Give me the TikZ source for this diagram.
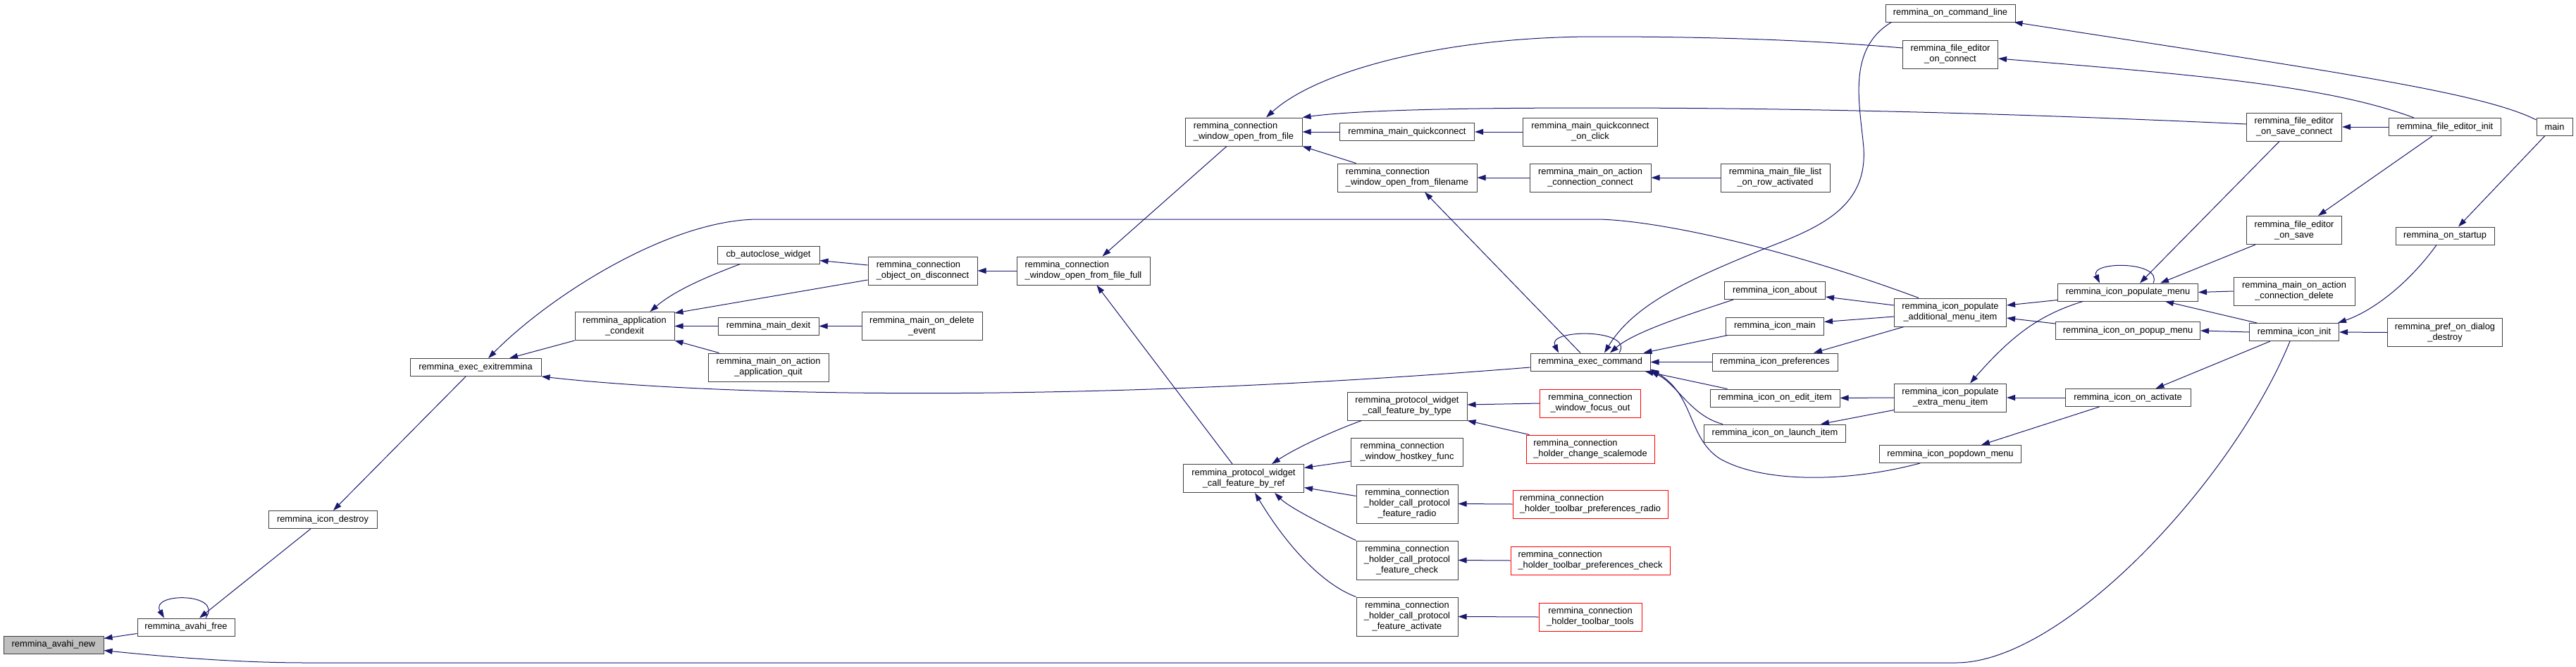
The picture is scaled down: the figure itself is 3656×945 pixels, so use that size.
\documentclass[tikz,border=0pt]{standalone}
\usepackage{fontspec}
\setmainfont{Liberation Sans}
\usetikzlibrary{arrows.meta,calc}
\definecolor{mblue}{HTML}{191970}
\definecolor{boxline}{HTML}{404040}
\tikzset{
 box/.style={draw=boxline, line width=1pt, fill=white, rectangle, inner sep=0pt, minimum height=25pt, font=\fontsize{12.85}{15}\selectfont, text=black},
 box2/.style={box, minimum height=40pt},
 box3/.style={box, minimum height=55pt},
 redbox/.style={draw=red},
 cur/.style={fill=black!25},
 edge/.style={draw=mblue, line width=1pt, -{Triangle[length=12pt,width=8pt]}},
}
\begin{document}
\begin{tikzpicture}[x=1pt,y=-1pt]
\fill[white] (0,0) rectangle (3656,945);
\path[use as bounding box] (0,0) rectangle (3656,945);
% nodes
\node[box, cur, minimum width=142pt] (new) at (76,914.5) {remmina\_avahi\_new};
\node[box, minimum width=138pt] (free) at (264,889.5) {remmina\_avahi\_free};
\node[box, minimum width=154pt] (destroy) at (458,737) {remmina\_icon\_destroy};
\node[box, minimum width=186pt] (exit) at (675,521) {remmina\_exec\_exitremmina};
\node[box2, minimum width=141pt, align=center] (cond) at (886.5,462.5) {remmina\_application\\\_condexit};
\node[box, minimum width=145pt] (cb) at (1090.5,361.5) {cb\_autoclose\_widget};
\node[box, minimum width=143pt] (dexit) at (1090.5,462.5) {remmina\_main\_dexit};
\node[box2, minimum width=171pt, align=center] (quit) at (1090.5,521) {remmina\_main\_on\_action\\\_application\_quit};
\node[box2, minimum width=155pt, align=left] (disc) at (1309.5,384) {remmina\_connection\\\_object\_on\_disconnect};
\node[box2, minimum width=171pt, align=center] (del) at (1308.5,462.5) {remmina\_main\_on\_delete\\\_event};
\node[box2, minimum width=189pt, align=left] (ofull) at (1537.5,384) {remmina\_connection\\\_window\_open\_from\_file\_full};
\node[box2, minimum width=166pt, align=left] (ofile) at (1765,187) {remmina\_connection\\\_window\_open\_from\_file};
\node[box2, minimum width=171pt, align=center] (byref) at (1765,678.5) {remmina\_protocol\_widget\\\_call\_feature\_by\_ref};
\node[box, minimum width=191pt] (qc) at (1997,187) {remmina\_main\_quickconnect};
\node[box2, minimum width=191pt, align=center] (qclick) at (2257,187) {remmina\_main\_quickconnect\\\_on\_click};
\node[box2, minimum width=198pt, align=left] (ofname) at (1997,252) {remmina\_connection\\\_window\_open\_from\_filename};
\node[box2, minimum width=172pt, align=center] (cconn) at (2257,252) {remmina\_main\_on\_action\\\_connection\_connect};
\node[box2, minimum width=155pt, align=center] (flist) at (2519.5,252) {remmina\_main\_file\_list\\\_on\_row\_activated};
\node[box, minimum width=170pt] (exec) at (2257,513.5) {remmina\_exec\_command};
\node[box2, minimum width=170pt, align=center] (bytype) at (1997,576) {remmina\_protocol\_widget\\\_call\_feature\_by\_type};
\node[box2, redbox, minimum width=143pt, align=center] (focus) at (2257,572) {remmina\_connection\\\_window\_focus\_out};
\node[box2, redbox, minimum width=182pt, align=left] (scale) at (2257,637) {remmina\_connection\\\_holder\_change\_scalemode};
\node[box2, minimum width=159pt, align=left] (hostkey) at (1997,641) {remmina\_connection\\\_window\_hostkey\_func};
\node[box3, minimum width=144pt, align=center] (fradio) at (1997,714.5) {remmina\_connection\\\_holder\_call\_protocol\\\_feature\_radio};
\node[box2, redbox, minimum width=220pt, align=left] (pradio) at (2257,715) {remmina\_connection\\\_holder\_toolbar\_preferences\_radio};
\node[box3, minimum width=144pt, align=center] (fcheck) at (1997,794.5) {remmina\_connection\\\_holder\_call\_protocol\\\_feature\_check};
\node[box2, redbox, minimum width=226pt, align=left] (pcheck) at (2257,795) {remmina\_connection\\\_holder\_toolbar\_preferences\_check};
\node[box3, minimum width=144pt, align=center] (factiv) at (1997,874.5) {remmina\_connection\\\_holder\_call\_protocol\\\_feature\_activate};
\node[box2, redbox, minimum width=146pt, align=center] (ttools) at (2257,875) {remmina\_connection\\\_holder\_toolbar\_tools};
\node[box, minimum width=184pt] (cmdline) at (2768,18.5) {remmina\_on\_command\_line};
\node[box2, minimum width=135pt, align=center] (feconn) at (2768,77) {remmina\_file\_editor\\\_on\_connect};
\node[box, minimum width=143pt] (about) at (2519,412) {remmina\_icon\_about};
\node[box, minimum width=139pt] (imain) at (2519,462.5) {remmina\_icon\_main};
\node[box, minimum width=178pt] (prefs) at (2519,513.5) {remmina\_icon\_preferences};
\node[box, minimum width=184pt] (edit) at (2519,564.5) {remmina\_icon\_on\_edit\_item};
\node[box, minimum width=201pt] (launch) at (2519,614.5) {remmina\_icon\_on\_launch\_item};
\node[box2, minimum width=159pt, align=center] (popadd) at (2768,443) {remmina\_icon\_populate\\\_additional\_menu\_item};
\node[box2, minimum width=159pt, align=center] (popext) at (2768,564) {remmina\_icon\_populate\\\_extra\_menu\_item};
\node[box, minimum width=201pt] (popdown) at (2768,644) {remmina\_icon\_popdown\_menu};
\node[box, minimum width=199pt] (popmenu) at (3020,414.5) {remmina\_icon\_populate\_menu};
\node[box, minimum width=205pt] (popup) at (3020,469) {remmina\_icon\_on\_popup\_menu};
\node[box, minimum width=178pt] (activ) at (3020,564) {remmina\_icon\_on\_activate};
\node[box2, minimum width=135pt, align=center] (sconn) at (3256,180) {remmina\_file\_editor\\\_on\_save\_connect};
\node[box2, minimum width=135pt, align=center] (fesave) at (3256,326.5) {remmina\_file\_editor\\\_on\_save};
\node[box2, minimum width=172pt, align=center] (cdel) at (3256,413) {remmina\_main\_on\_action\\\_connection\_delete};
\node[box, minimum width=127pt] (init) at (3256,471) {remmina\_icon\_init};
\node[box, minimum width=159pt] (feinit) at (3470,180) {remmina\_file\_editor\_init};
\node[box, minimum width=140pt] (startup) at (3470,334.5) {remmina\_on\_startup};
\node[box2, minimum width=163pt, align=center] (pdestroy) at (3470,471.5) {remmina\_pref\_on\_dialog\\\_destroy};
\node[box, minimum width=51pt] (main) at (3625.5,180) {main};
% edges
\draw[edge] ($(free.west)+(0,9)$) -- ($(new.east)+(0,-9)$);
\draw[edge] ($(init.south)+(-6,0)$) .. controls (3170,680) and (2930,940) .. (2776,940) -- (435,940) .. controls (340,940) and (240,932) .. ($(new.east)+(0,8)$);
\draw[edge] ($(free.north)+(28,0)$) .. controls (318,840) and (212,840) .. ($(free.north)+(-31,0)$);
\draw[edge] ($(destroy.south)+(-17,0)$) -- ($(free.north)+(19,0)$);
\draw[edge] ($(exit.south)+(-14,0)$) -- ($(destroy.north)+(15,0)$);
\draw[edge] (cond.south west) -- ($(exit.north)+(48,0)$);
\draw[edge] ($(popadd.north)+(-45,0)$) .. controls (2500,340) and (2330,311) .. (2265,311) -- (1077,311) .. controls (950,311) and (780,420) .. ($(exit.north)+(18,0)$);
\draw[edge] ($(exec.west)+(0,7.5)$) .. controls (1500,575) and (1000,560) .. (exit.south east);
\draw[edge] ($(cb.south west)+(33,0)$) .. controls (1010,390) and (960,410) .. ($(cond.north)+(36,0)$);
\draw[edge] ($(disc.west)+(0,13)$) -- ($(cond.north east)+(0,2)$);
\draw[edge] (dexit.west) -- (cond.east);
\draw[edge] ($(quit.north west)+(16,0)$) -- (cond.south east);
\draw[edge] ($(disc.west)+(0,-8)$) -- ($(cb.east)+(0,8)$);
\draw[edge] (del.west) -- (dexit.east);
\draw[edge] (ofull.west) -- (disc.east);
\draw[edge] ($(ofile.south)+(-24,0)$) -- ($(ofull.north)+(27,0)$);
\draw[edge] ($(byref.north)+(-16,0)$) -- ($(ofull.south)+(19,0)$);
\draw[edge] ($(feconn.west)+(0,-9)$) .. controls (2550,55) and (2400,52) .. (2265,52) .. controls (2050,52) and (1870,100) .. ($(ofile.north)+(32,0)$);
\draw[edge] ($(sconn.west)+(0,-4)$) .. controls (2800,158) and (2500,153) .. (2265,153) .. controls (2050,153) and (1920,157) .. (ofile.north east);
\draw[edge] (qc.west) -- (ofile.east);
\draw[edge] ($(ofname.north west)+(27,0)$) -- (ofile.south east);
\draw[edge] (qclick.west) -- (qc.east);
\draw[edge] ($(exec.north)+(-14,0)$) -- ($(ofname.south)+(25,0)$);
\draw[edge] (cconn.west) -- (ofname.east);
\draw[edge] (flist.west) -- (cconn.east);
\draw[edge] ($(exec.north)+(41,0)$) .. controls (2320,466) and (2195,466) .. ($(exec.north)+(-45,0)$);
\draw[edge] ($(cmdline.south west)+(9,0)$) .. controls (2620,70) and (2640,150) .. (2645,210) .. controls (2650,290) and (2590,320) .. (2511,350) .. controls (2400,395) and (2320,430) .. ($(exec.north)+(20,0)$);
\draw[edge] ($(about.south west)+(13,0)$) .. controls (2400,445) and (2320,470) .. ($(exec.north)+(28,0)$);
\draw[edge] ($(imain.south west)+(3,0)$) -- ($(exec.north east)+(-10,0)$);
\draw[edge] (prefs.west) -- (exec.east);
\draw[edge] ($(edit.north west)+(25,0)$) -- ($(exec.south east)+(-8,0)$);
\draw[edge] ($(launch.north west)+(27,0)$) .. controls (2400,590) and (2380,545) .. (exec.south east);
\draw[edge] ($(popdown.south)+(-43,0)$) .. controls (2620,685) and (2500,685) .. (2440,650) .. controls (2395,620) and (2405,560) .. ($(exec.east)+(0,10)$);
\draw[edge] ($(popadd.west)+(0,-10)$) -- ($(about.east)+(0,9)$);
\draw[edge] ($(popadd.west)+(0,6)$) -- ($(imain.east)+(0,-6)$);
\draw[edge] ($(popadd.south west)+(14,0)$) -- ($(prefs.north)+(55,0)$);
\draw[edge] (popext.west) -- (edit.east);
\draw[edge] ($(popext.south west)+(0,-3)$) -- ($(launch.north east)+(-36,0)$);
\draw[edge] ($(popmenu.west)+(0,11)$) -- ($(popadd.east)+(0,-10)$);
\draw[edge] ($(popup.west)+(0,-10)$) -- ($(popadd.east)+(0,8)$);
\draw[edge] ($(popmenu.south west)+(36,0)$) .. controls (2900,445) and (2860,470) .. ($(popext.north)+(28,0)$);
\draw[edge] (activ.west) -- (popext.east);
\draw[edge] ($(activ.south west)+(49,0)$) -- ($(popdown.north)+(44,0)$);
\draw[edge] ($(popmenu.north)+(36,0)$) .. controls (3070,370) and (2965,370) .. ($(popmenu.north)+(-40,0)$);
\draw[edge] ($(sconn.south)+(-21,0)$) -- ($(popmenu.north)+(17,0)$);
\draw[edge] ($(fesave.south west)+(13,0)$) -- ($(popmenu.north)+(46,0)$);
\draw[edge] (cdel.west) -- (popmenu.east);
\draw[edge] ($(init.north west)+(11,0)$) -- ($(popmenu.south)+(53,0)$);
\draw[edge] (init.west) -- (popup.east);
\draw[edge] ($(init.south)+(-34,0)$) -- ($(activ.north east)+(-50,0)$);
\draw[edge] ($(startup.south)+(-12,0)$) .. controls (3420,400) and (3370,440) .. ($(init.north east)+(-2,0)$);
\draw[edge] (pdestroy.west) -- (init.east);
\draw[edge] (feinit.west) -- (sconn.east);
\draw[edge] ($(feinit.south)+(-18,0)$) -- ($(fesave.north)+(34,0)$);
\draw[edge] ($(feinit.north west)+(36,0)$) .. controls (3300,120) and (3100,105) .. ($(feconn.east)+(0,6)$);
\draw[edge] ($(main.north west)+(0,3)$) .. controls (3520,130) and (3300,100) .. ($(cmdline.south east)+(-2,0)$);
\draw[edge] ($(main.south west)+(12,0)$) -- ($(startup.north)+(19,0)$);
\draw[edge] ($(bytype.south west)+(21,0)$) .. controls (1890,612) and (1840,635) .. ($(byref.north)+(40,0)$);
\draw[edge] ($(hostkey.west)+(0,13)$) -- ($(byref.east)+(0,-15)$);
\draw[edge] ($(fradio.west)+(0,-11)$) -- ($(byref.east)+(0,13)$);
\draw[edge] (fcheck.north west) .. controls (1880,745) and (1830,720) .. ($(byref.south)+(44,0)$);
\draw[edge] (factiv.north west) .. controls (1880,830) and (1830,780) .. ($(byref.south)+(16,0)$);
\draw[edge] (focus.west) -- ($(bytype.east)+(0,-2)$);
\draw[edge] ($(scale.north west)+(5,0)$) -- (bytype.south east);
\draw[edge] (pradio.west) -- (fradio.east);
\draw[edge] (pcheck.west) -- (fcheck.east);
\draw[edge] (ttools.west) -- (factiv.east);
\end{tikzpicture}
\end{document}
